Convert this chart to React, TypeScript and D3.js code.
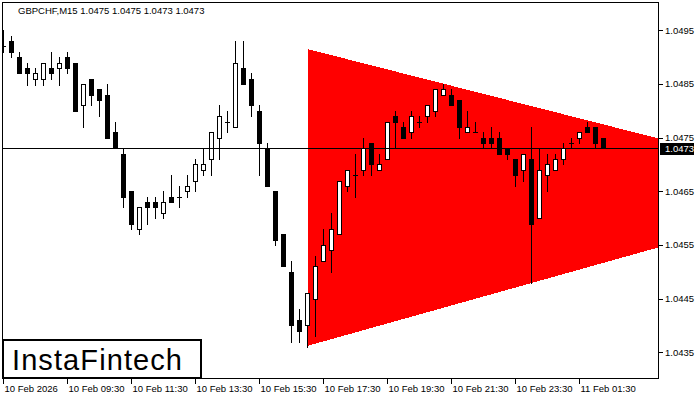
import * as d3 from 'd3';

const title = 'GBPCHF,M15  1.0475 1.0475 1.0473 1.0473';

// OHLC of the 76 M15 bars
const opens = [
  1.0492, 1.0493, 1.0490, 1.0488, 1.0486, 1.0486, 1.0488, 1.0488, 1.0490, 1.0489,
  1.0481, 1.0486, 1.0484, 1.0483, 1.0476, 1.0472, 1.0465, 1.0458, 1.0463, 1.0463,
  1.0461, 1.0464, 1.0464, 1.0465, 1.0467, 1.0469, 1.0471, 1.0475, 1.0478, 1.0477,
  1.0488, 1.0486, 1.0480, 1.0473, 1.0465, 1.0457, 1.0450, 1.0441, 1.0440, 1.0445,
  1.0452, 1.0454, 1.0457, 1.0466, 1.0468, 1.0469, 1.0474, 1.0469, 1.0471, 1.0479,
  1.0477, 1.0476, 1.0478, 1.0479, 1.0480, 1.0483, 1.0483, 1.0482, 1.0476, 1.0476,
  1.0475, 1.0475, 1.0475, 1.0473, 1.0471, 1.0469, 1.0471, 1.0460, 1.0468, 1.0469,
  1.0471, 1.0474, 1.0475, 1.0477, 1.0477, 1.0475,
];
const highs = [
  1.0495, 1.0494, 1.0491, 1.0489, 1.0488, 1.0489, 1.0491, 1.0490, 1.0491, 1.0489,
  1.0485, 1.0486, 1.0484, 1.0485, 1.0478, 1.0473, 1.0465, 1.0462, 1.0464, 1.0464,
  1.0465, 1.0468, 1.0466, 1.0468, 1.0471, 1.0473, 1.0476, 1.0481, 1.0480, 1.0493,
  1.0493, 1.0487, 1.0481, 1.0474, 1.0465, 1.0457, 1.0452, 1.0443, 1.0446, 1.0453,
  1.0458, 1.0461, 1.0467, 1.0469, 1.0472, 1.0475, 1.0474, 1.0472, 1.0478, 1.0480,
  1.0478, 1.0480, 1.0479, 1.0481, 1.0484, 1.0485, 1.0484, 1.0482, 1.0480, 1.0478,
  1.0476, 1.0477, 1.0476, 1.0473, 1.0471, 1.0472, 1.0477, 1.0473, 1.0472, 1.0472,
  1.0474, 1.0475, 1.0476, 1.0478, 1.0477, 1.0475,
];
const lows = [
  1.0491, 1.0490, 1.0487, 1.04848, 1.04848, 1.04848, 1.0486, 1.04848, 1.0487, 1.0480,
  1.0477, 1.0481, 1.0479, 1.0475, 1.0473, 1.0462, 1.0458, 1.0457, 1.0459, 1.0460,
  1.0460, 1.0463, 1.0462, 1.0464, 1.0465, 1.0468, 1.0468, 1.0471, 1.0476, 1.0477,
  1.0485, 1.0479, 1.0468, 1.0466, 1.0455, 1.0451, 1.0437, 1.0437, 1.0436, 1.0438,
  1.0452, 1.0450, 1.0457, 1.0465, 1.0464, 1.0468, 1.0468, 1.0469, 1.0471, 1.0473,
  1.0475, 1.0475, 1.0477, 1.0478, 1.0479, 1.0483, 1.0481, 1.0475, 1.0476, 1.0476,
  1.0473, 1.0473, 1.0472, 1.0471, 1.0466, 1.0467, 1.0448, 1.0460, 1.0465, 1.0469,
  1.0470, 1.0473, 1.0474, 1.0476, 1.0473, 1.0473,
];
const closes = [
  1.0492, 1.0491, 1.0487, 1.0487, 1.0487, 1.0489, 1.0487, 1.0489, 1.0488, 1.0480,
  1.0485, 1.0483, 1.0482, 1.0475, 1.0473, 1.0464, 1.0459, 1.0462, 1.0462, 1.0462,
  1.0463, 1.0463, 1.0464, 1.0466, 1.0470, 1.0470, 1.0476, 1.0479, 1.0478, 1.0489,
  1.0485, 1.0481, 1.0474, 1.0466, 1.0456, 1.0451, 1.0440, 1.0439, 1.0446, 1.0451,
  1.0455, 1.0458, 1.0467, 1.0469, 1.0468, 1.0473, 1.0470, 1.0470, 1.0478, 1.0478,
  1.0475, 1.0479, 1.0478, 1.0481, 1.0484, 1.0484, 1.0481, 1.0477, 1.0477, 1.0476,
  1.0474, 1.0474, 1.0472, 1.0472, 1.0468, 1.0472, 1.0459, 1.0469, 1.0470, 1.0471,
  1.0473, 1.0474, 1.0476, 1.0476, 1.0474, 1.0473,
];

const timeLabels = [
  '10 Feb 2026', '10 Feb 09:30', '10 Feb 11:30', '10 Feb 13:30', '10 Feb 15:30',
  '10 Feb 17:30', '10 Feb 19:30', '10 Feb 21:30', '10 Feb 23:30', '11 Feb 01:30',
];
const barsPerLabel = 8;
const priceTicks = [1.0435, 1.0445, 1.0455, 1.0465, 1.0475, 1.0485, 1.0495];
const lastPrice = 1.0473;

// symmetric triangle: [bar, price] anchors of the two sides
const upperSide = [[38, 1.04915], [82, 1.04748]];
const lowerSide = [[38, 1.04362], [82, 1.04546]];

const W = 700;
const H = 400;
const left = 2.5;
const right = 658.5;
const top = 2.5;
const bottom = 378.5;

export default function App() {
  const x = d3.scaleLinear().domain([0, 75]).range([3.5, 603.5]);
  const y = d3.scaleLinear().domain([1.0435, 1.0495]).range([352.3, 30.3]);

  const tri = [upperSide[0], upperSide[1], lowerSide[1], lowerSide[0]]
    .map(([b, p]) => `${x(b)},${y(p)}`).join(' ');

  const font = '"Liberation Sans", Arial, sans-serif';

  return (
    <svg width={W} height={H} style={{ display: 'block' }}>
      <style>{'body{margin:0}'}</style>
      <defs>
        <clipPath id="plot">
          <rect x={left} y={top} width={right - left} height={bottom - top} />
        </clipPath>
      </defs>
      <rect width={W} height={H} fill="#fff" />

      <g clipPath="url(#plot)">
        <polygon points={tri} fill="#ff0000" shapeRendering="crispEdges" />

        {opens.map((o, i) => {
          const c = closes[i];
          const cx = x(i);
          const yHi = Math.round(y(highs[i]));
          const yLo = Math.round(y(lows[i]));
          const yTop = Math.round(y(Math.max(o, c)));
          const yBot = Math.round(y(Math.min(o, c)));
          let body;
          if (yTop === yBot) {
            body = <line x1={cx - 2.5} x2={cx + 2.5} y1={yTop + 0.5} y2={yTop + 0.5} stroke="#000" />;
          } else if (c > o) {
            body = (
              <rect x={cx - 2} y={yTop + 0.5} width={4} height={yBot - yTop}
                fill="#fff" stroke="#000" strokeWidth={1} />
            );
          } else {
            body = <rect x={cx - 2.5} y={yTop} width={5} height={yBot - yTop + 1} fill="#000" />;
          }
          return (
            <g key={i} shapeRendering="crispEdges">
              <line x1={cx} x2={cx} y1={yHi} y2={yLo + 1} stroke="#000" />
              {body}
            </g>
          );
        })}

        <line x1={left} x2={right} y1={Math.round(y(lastPrice)) + 0.5} y2={Math.round(y(lastPrice)) + 0.5}
          stroke="#000" shapeRendering="crispEdges" />
      </g>

      <rect x={left} y={top} width={right - left} height={bottom - top}
        fill="none" stroke="#000" shapeRendering="crispEdges" />

      <text x={18} y={14} fontFamily={font} fontSize={9.5} fill="#000">{title}</text>

      {priceTicks.map((p) => (
        <g key={p} shapeRendering="crispEdges">
          <line x1={right} x2={right + 4} y1={Math.round(y(p)) + 0.5} y2={Math.round(y(p)) + 0.5} stroke="#000" />
          <text x={665} y={y(p) + 3.5} fontFamily={font} fontSize={9.5} fill="#000">{d3.format('.4f')(p)}</text>
        </g>
      ))}

      <rect x={660} y={Math.round(y(lastPrice)) - 5} width={34} height={12} fill="#000" />
      <text x={665} y={y(lastPrice) + 3.5} fontFamily={font} fontSize={9.5} fill="#fff">{d3.format('.4f')(lastPrice)}</text>

      {timeLabels.map((t, k) => {
        const tx = Math.round(x(k * barsPerLabel)) - 0.5;
        return (
          <g key={t}>
            <line x1={tx} x2={tx} y1={bottom} y2={bottom + 5} stroke="#000" shapeRendering="crispEdges" />
            <text x={tx + 1} y={392} fontFamily={font} fontSize={9.5} fill="#000">{t}</text>
          </g>
        );
      })}

      <rect x={3} y={340} width={198} height={38} fill="#fff" stroke="#000" strokeWidth={2} />
      <text x={12} y={370} fontFamily={font} fontSize={29} fill="#000" textLength={170} lengthAdjust="spacing">InstaFintech</text>
    </svg>
  );
}
